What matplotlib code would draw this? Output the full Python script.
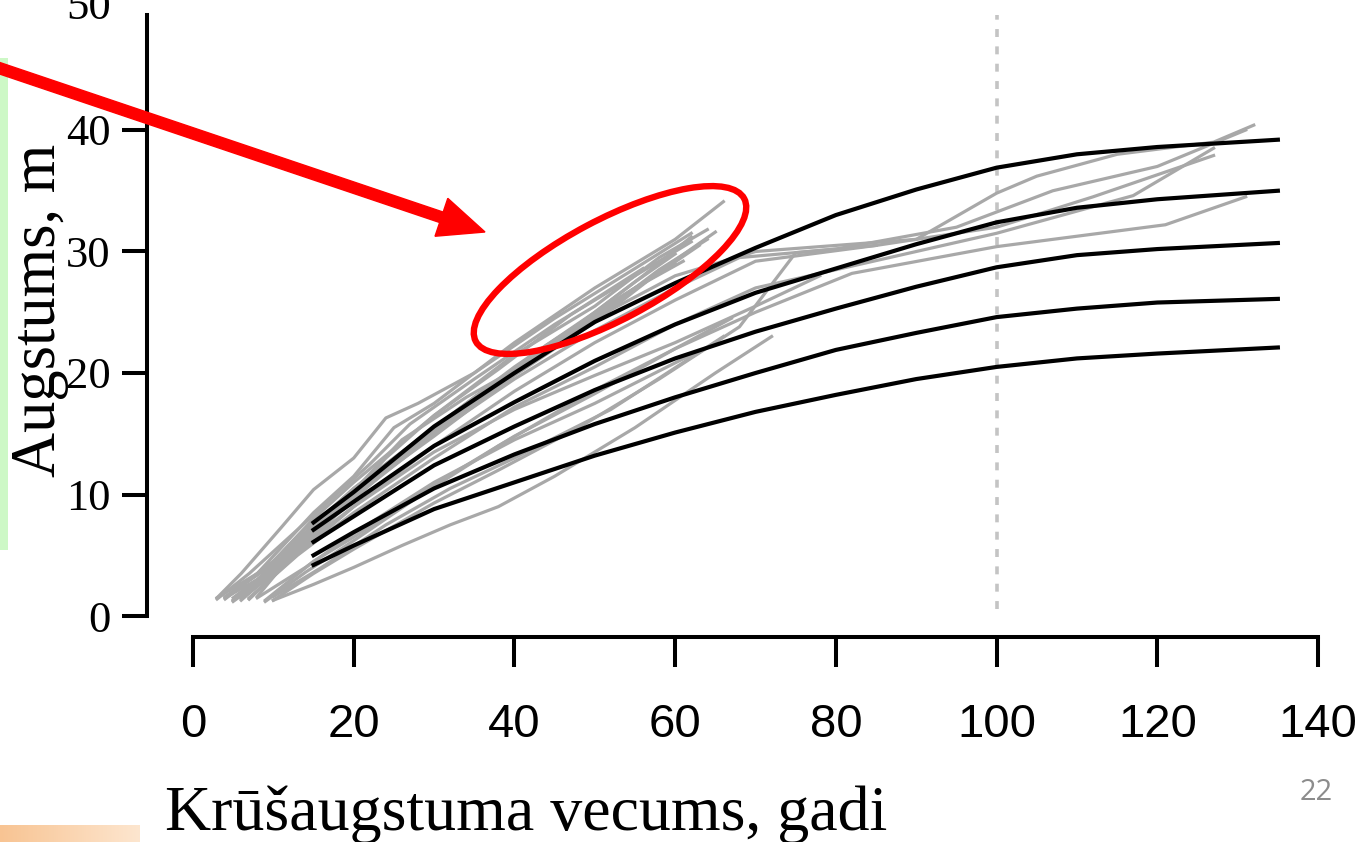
import matplotlib
matplotlib.use("Agg")
import matplotlib.pyplot as plt
from matplotlib.patches import Ellipse, FancyArrow, Rectangle
from matplotlib.colors import LinearSegmentedColormap
from matplotlib.transforms import ScaledTranslation
import numpy as np

# ---------------- data ----------------
curve_ages = [15, 20, 30, 40, 50, 60, 70, 80, 90, 100, 110, 120, 135]
curve1 = [7.7, 10.2, 15.6, 20.0, 24.2, 27.4, 30.3, 33.0, 35.1, 36.9, 38.0, 38.6, 39.2]
curve2 = [7.1, 9.4, 14.0, 17.6, 21.0, 24.0, 26.6, 28.6, 30.6, 32.4, 33.6, 34.3, 35.0]
curve3 = [6.1, 8.2, 12.4, 15.6, 18.6, 21.2, 23.4, 25.3, 27.1, 28.7, 29.7, 30.2, 30.7]
curve4 = [5.0, 6.9, 10.5, 13.3, 15.8, 18.0, 20.0, 21.9, 23.3, 24.6, 25.3, 25.8, 26.1]
curve5 = [4.2, 5.8, 8.8, 11.0, 13.2, 15.1, 16.8, 18.2, 19.5, 20.5, 21.2, 21.6, 22.1]
site_curves = [curve1, curve2, curve3, curve4, curve5]

# observed tree height trajectories (age, height)
tree01_age = [3, 8, 15, 20, 25, 30, 40, 50, 60, 66]
tree01_h = [1.5, 3.5, 8.5, 11.5, 15.5, 17.5, 22.5, 27.0, 31.0, 34.1]
tree02_age = [4, 10, 15, 20, 30, 40, 50, 58, 64]
tree02_h = [1.4, 4.5, 8.0, 11.0, 16.5, 21.5, 25.5, 29.5, 31.8]
tree03_age = [5, 10, 15, 20, 30, 40, 50, 56, 62]
tree03_h = [1.5, 4.0, 7.5, 10.5, 15.5, 20.5, 25.0, 28.0, 31.2]
tree04_age = [6, 11, 16, 22, 30, 40, 48, 55, 60]
tree04_h = [1.3, 4.2, 7.8, 11.0, 15.0, 20.0, 24.0, 27.5, 29.8]
tree05_age = [4, 9, 14, 20, 30, 40, 50, 57, 63]
tree05_h = [1.6, 3.8, 7.2, 10.0, 14.8, 19.8, 24.2, 27.8, 30.5]
tree06_age = [7, 12, 18, 25, 35, 45, 55, 61]
tree06_h = [1.4, 4.5, 8.5, 12.5, 18.0, 22.5, 27.0, 29.2]
tree07_age = [5, 10, 15, 22, 32, 42, 52, 59]
tree07_h = [1.2, 3.6, 6.8, 10.8, 16.0, 21.0, 25.5, 28.8]
tree08_age = [8, 12, 17, 24, 34, 44, 54, 65]
tree08_h = [1.6, 4.8, 8.4, 12.3, 17.3, 22.3, 26.5, 31.6]
tree09_age = [4, 10, 15, 20, 30, 40, 50, 60, 70, 80, 90, 100, 105, 115, 127, 132]
tree09_h = [1.5, 4.5, 7.5, 10.5, 15.5, 20.0, 24.5, 28.0, 30.0, 30.5, 31.0, 34.8, 36.2, 38.0, 39.0, 40.4]
tree10_age = [5, 10, 15, 20, 30, 40, 50, 60, 68, 80, 95, 107, 120, 131]
tree10_h = [1.3, 4.0, 7.0, 10.0, 15.0, 19.5, 23.5, 27.0, 29.5, 30.2, 32.0, 35.0, 37.0, 40.0]
tree11_age = [6, 12, 20, 30, 40, 50, 60, 70, 85, 100, 112, 127]
tree11_h = [1.4, 4.5, 9.0, 14.0, 18.5, 22.5, 26.0, 29.2, 30.5, 32.0, 34.5, 37.9]
tree12_age = [9, 15, 20, 30, 40, 50, 60, 70, 82, 100, 121, 131]
tree12_h = [1.3, 4.5, 6.5, 10.8, 14.8, 18.3, 22.0, 25.0, 28.2, 30.4, 32.2, 34.5]
tree13_age = [7, 13, 20, 30, 40, 50, 60, 70, 80, 90, 100, 117, 127]
tree13_h = [1.5, 5.0, 8.5, 13.0, 17.2, 20.5, 24.0, 27.0, 28.5, 30.0, 31.5, 34.6, 38.5]
tree14_age = [10, 15, 20, 30, 38, 48, 58, 68, 75, 85]
tree14_h = [1.3, 3.5, 5.5, 9.3, 12.0, 15.5, 19.5, 23.8, 29.9, 30.5]
tree15_age = [8, 14, 20, 30, 40, 50, 62]
tree15_h = [1.5, 4.0, 6.8, 11.0, 14.5, 17.5, 21.5]
tree16_age = [6, 12, 20, 30, 40, 50, 60, 70, 78]
tree16_h = [1.6, 5.0, 9.0, 13.5, 17.0, 19.8, 22.5, 25.5, 28.0]
tree17_age = [3, 7, 12, 17, 22, 27, 35, 45, 55, 62]
tree17_h = [1.4, 3.5, 6.5, 9.5, 12.5, 15.8, 19.5, 24.0, 28.0, 30.8]
tree18_age = [5, 9, 14, 19, 25, 33, 43, 53, 60]
tree18_h = [1.3, 3.2, 6.0, 9.0, 12.8, 17.0, 21.8, 26.2, 29.0]
tree19_age = [6, 10, 14, 20, 28, 38, 48, 58, 64]
tree19_h = [1.5, 3.8, 6.6, 10.2, 14.5, 19.0, 23.5, 28.5, 31.0]
tree20_age = [9, 14, 20, 28, 38, 50, 60, 67]
tree20_h = [1.2, 3.6, 6.2, 9.8, 14.0, 18.6, 22.0, 24.5]
tree21_age = [10, 16, 24, 32, 40, 52, 66]
tree21_h = [1.6, 4.0, 7.5, 10.5, 13.0, 17.0, 23.0]
tree22_age = [4, 8, 13, 18, 24, 30, 38, 47, 56]
tree22_h = [1.5, 3.0, 6.0, 8.8, 13.0, 16.5, 20.3, 24.8, 28.6]
tree23_age = [7, 11, 16, 21, 26, 34, 42, 52, 58]
tree23_h = [1.4, 4.0, 7.5, 11.0, 14.5, 18.0, 21.0, 25.5, 28.4]
tree24_age = [3, 6, 11, 15, 20, 24, 28, 35, 45, 55, 62]
tree24_h = [1.5, 3.5, 7.3, 10.4, 13.0, 16.3, 17.5, 20.0, 24.5, 28.6, 31.5]
tree25_age = [10, 15, 20, 26, 32, 38, 45, 55, 65, 72]
tree25_h = [1.3, 2.6, 4.0, 5.8, 7.5, 9.0, 11.5, 15.5, 20.0, 23.0]
trees = [
    (tree01_age, tree01_h), (tree02_age, tree02_h), (tree03_age, tree03_h),
    (tree04_age, tree04_h), (tree05_age, tree05_h), (tree06_age, tree06_h),
    (tree07_age, tree07_h), (tree08_age, tree08_h), (tree09_age, tree09_h),
    (tree10_age, tree10_h), (tree11_age, tree11_h), (tree12_age, tree12_h),
    (tree13_age, tree13_h), (tree14_age, tree14_h), (tree15_age, tree15_h),
    (tree16_age, tree16_h), (tree17_age, tree17_h), (tree18_age, tree18_h),
    (tree19_age, tree19_h), (tree20_age, tree20_h), (tree21_age, tree21_h),
    (tree22_age, tree22_h), (tree23_age, tree23_h), (tree24_age, tree24_h),
    (tree25_age, tree25_h),
]

x_ticks = [0, 20, 40, 60, 80, 100, 120, 140]
y_ticks = [0, 10, 20, 30, 40, 50]
ref_age = 100
x_label = "Krūšaugstuma vecums, gadi"
y_label = "Augstums, m"
page_number = "22"

# ---------------- figure ----------------
W, H = 1365, 842
fig = plt.figure(figsize=(W / 100, H / 100), dpi=100)
fig.patch.set_facecolor("white")

# pixel -> data mapping of the reference
px_x0, px_per_x = 193.0, 8.036
px_y0, px_per_y = 616.0, 12.15
ax_left_px, ax_bottom_px = 147.0, 637.0
ax = fig.add_axes([ax_left_px / W, (H - ax_bottom_px) / H,
                   (W - ax_left_px) / W, ax_bottom_px / H])
ax.set_xlim((ax_left_px - px_x0) / px_per_x, (W - px_x0) / px_per_x)
ax.set_ylim((px_y0 - ax_bottom_px) / px_per_y, px_y0 / px_per_y)
ax.patch.set_alpha(0)

for ages, hs in trees:
    ax.plot(ages, hs, color="#a8a8a8", lw=2.3, solid_joinstyle="round", zorder=2)
for c in site_curves:
    ax.plot(curve_ages, c, color="black", lw=3.0, zorder=3)
ax.plot([ref_age, ref_age], [0.6, 49.5], color="#c4c4c4", lw=2.6,
        linestyle=(0, (2.2, 2.6)), zorder=1)

for s in ["top", "right"]:
    ax.spines[s].set_visible(False)
ax.spines["left"].set_bounds(0, 49.5)
ax.spines["bottom"].set_bounds(0, 140)
ax.spines["left"].set_linewidth(2.9)
ax.spines["bottom"].set_linewidth(2.9)
ax.set_xticks(x_ticks)
ax.set_yticks(y_ticks)
ax.set_xticklabels([str(v) for v in x_ticks], family="Liberation Sans", fontsize=34)
ax.set_yticklabels([str(v) for v in y_ticks], family="Liberation Serif", fontsize=32)
ax.tick_params(axis="x", length=21.5, width=2.9, pad=26)
ax.tick_params(axis="y", length=18, width=2.9, pad=8)
top_tick = ax.yaxis.get_major_ticks()[-1]
top_tick.tick1line.set_visible(False)
top_tick.label1.set_transform(top_tick.label1.get_transform()
                              + ScaledTranslation(0, 5 / 100, fig.dpi_scale_trans))

fig.text(165 / W, (H - 830) / H, x_label, family="Liberation Serif", fontsize=46,
         ha="left", va="baseline")
fig.text(40 / W, (H - 310) / H, y_label, family="Liberation Serif", fontsize=45,
         rotation=90, ha="center", va="center")

# ---------------- slide decorations (pixel overlay) ----------------
ov = fig.add_axes([0, 0, 1, 1])
ov.set_xlim(0, W)
ov.set_ylim(0, H)
ov.axis("off")
ov.patch.set_alpha(0)

ov.add_patch(Rectangle((0, H - 550), 8, 492, facecolor="#cdf8c6", edgecolor="none"))
grad = np.linspace(0, 1, 256).reshape(1, -1)
cm = LinearSegmentedColormap.from_list("o", ["#f8c493", "#fde6cf"])
ov.imshow(grad, extent=(0, 140, 0, 17), cmap=cm, aspect="auto", zorder=1)

ov.add_patch(FancyArrow(-4, H - 67, 489, -(232 - 67), width=11, head_width=40,
                        head_length=46, length_includes_head=True,
                        color="#ff0000", zorder=5))
ov.add_patch(Ellipse((610, H - 270), 304, 100, angle=28, facecolor="none",
                     edgecolor="#ff0000", lw=4.6, zorder=5))
ov.text(1316, H - 793, page_number, family="Open Sans", fontsize=21,
        color="#8c8c8c", ha="center", va="center")
ov.set_xlim(0, W)
ov.set_ylim(0, H)

fig.savefig("out.png", dpi=100, facecolor="white")
